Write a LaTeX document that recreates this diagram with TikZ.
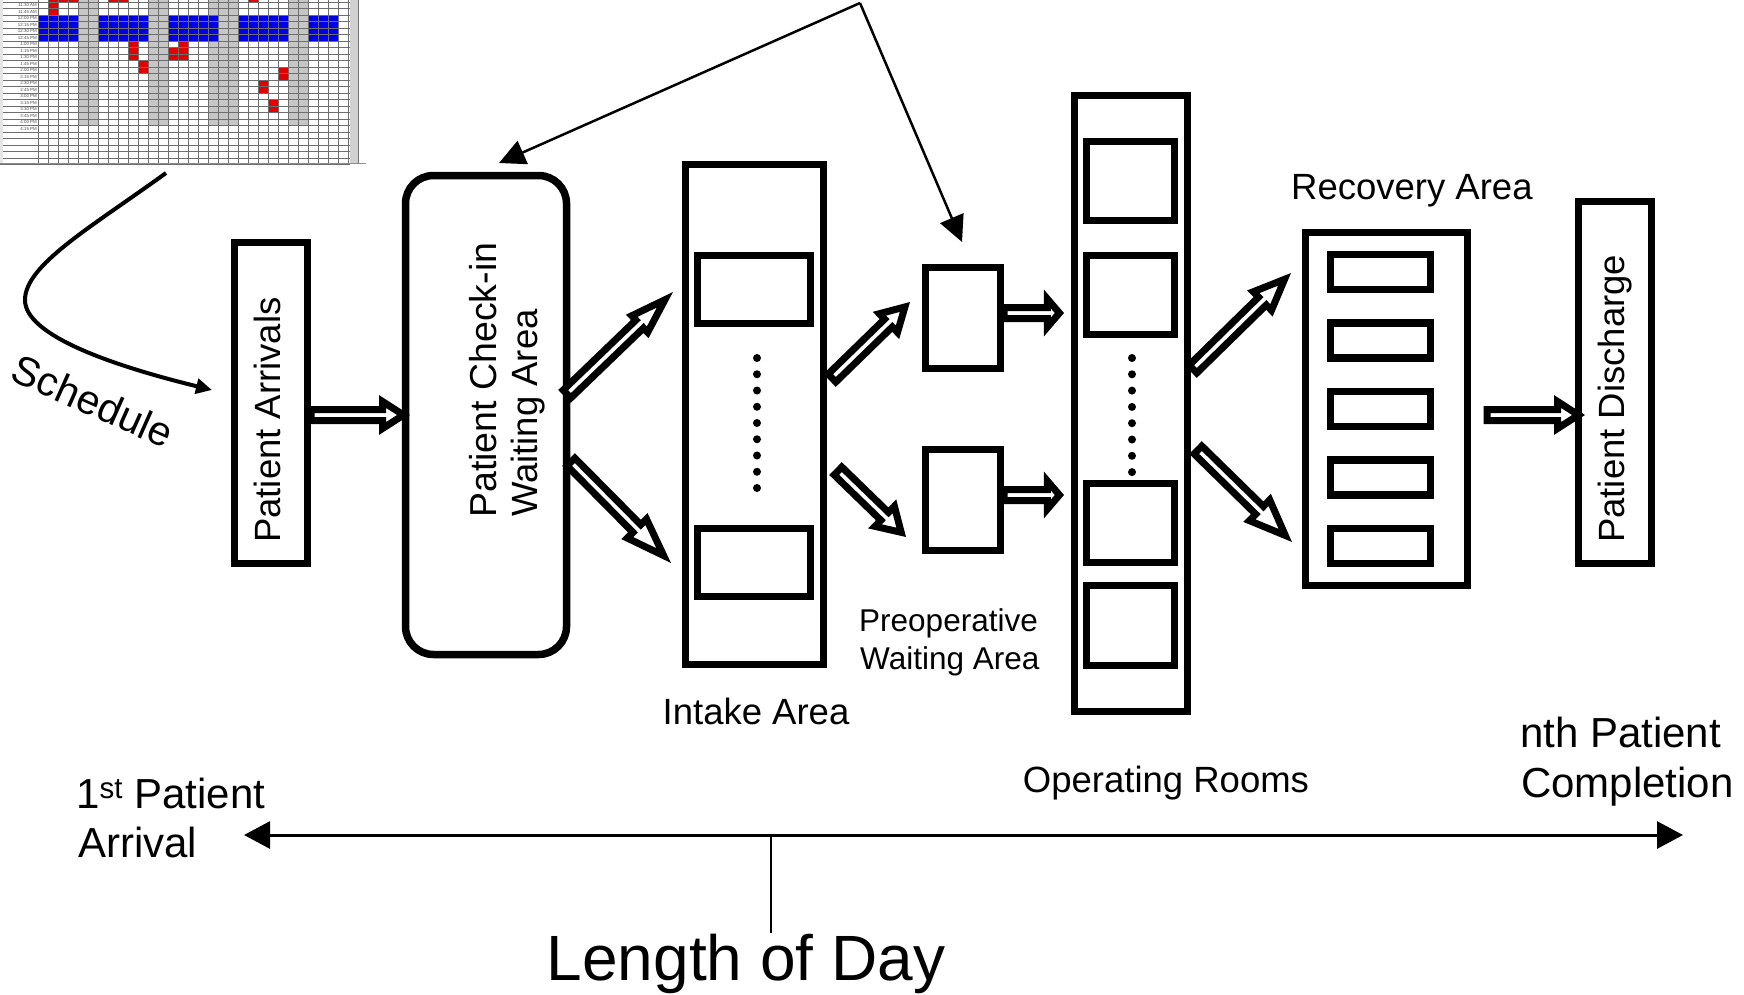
\documentclass[tikz,border=0pt]{standalone}
\usepackage{fontspec}
\setmainfont{Liberation Sans}
\usetikzlibrary{arrows.meta,calc}
\definecolor{sblue}{RGB}{0,0,235}
\definecolor{sred}{RGB}{228,0,0}
\definecolor{sband}{RGB}{198,198,198}
\definecolor{sgrid}{RGB}{110,110,110}
% #1 tail, #2 outer tip, #3 head length, #4 head half width
\newcommand{\blkarrow}[4]{%
  \pgfmathsetmacro{\blkoff}{3.5*veclen(#3,#4)/#4}%
  \coordinate (bT) at ($(#2)!\blkoff pt!(#1)$);
  \coordinate (bC) at ($(bT)!#3pt!(#1)$);
  \draw[blockarrow] ($(#1)!5.5pt!90:(bT)$) -- ($(bC)!5.5pt!90:(bT)$) -- ($(bC)!#4pt!90:(bT)$) -- (bT)
     -- ($(bC)!#4pt!-90:(bT)$) -- ($(bC)!5.5pt!-90:(bT)$) -- ($(#1)!5.5pt!-90:(bT)$) -- cycle;
}
\begin{document}
\begin{tikzpicture}[x=1pt,y=-1pt,
  box/.style={draw, line width=7.5pt, inner sep=0pt},
  blockarrow/.style={draw, line width=7pt, fill=white, line join=miter},
  lbl/.style={font=\fontsize{36.5pt}{42pt}\selectfont, inner sep=0pt},
  lblsm/.style={font=\fontsize{31.5pt}{38pt}\selectfont, inner sep=0pt},
  tl/.style={font=\fontsize{42pt}{50pt}\selectfont, inner sep=0pt},
  gridl/.style={draw=sgrid, line width=0.6pt},
  ptr/.style={line width=2.5pt, -{Triangle[length=26pt,width=25pt]}},
]
\fill[white] (0,0) rectangle (1744,994);
\useasboundingbox (0,0) rectangle (1744,994);

% ---------------- spreadsheet picture ----------------
\begin{scope}
\clip (0,0) rectangle (366,164);
\fill[white] (0,0) rectangle (366,164);
\foreach \a/\b in {78/98,148/168,208/238,288/308}
  \fill[sband] (\a,0) rectangle (\b,125.5);
\foreach \a/\b in {38/78,98/148,168/218,239/289,309/339}
  \fill[sblue] (\a,15) rectangle (\b,41);
\fill[sred] (48,0) rectangle (58,15);
\fill[sred] (58,0) rectangle (78,2);
\fill[sred] (108,0) rectangle (128,2);
\fill[sred] (248,0) rectangle (258,2);
\fill[sred] (128,41) rectangle (138,60.5);
\fill[sred] (138,60.5) rectangle (148,73.5);
\fill[sred] (168,47.5) rectangle (188,60.5);
\fill[sred] (178,41) rectangle (188,47.5);
\fill[sred] (278,67) rectangle (288,80);
\fill[sred] (258,80) rectangle (268,93);
\fill[sred] (268,99.5) rectangle (278,112.5);
\foreach \x in {38,48,...,348}
  \draw[gridl] (\x,0) -- (\x,164);
\foreach \k in {0,...,25}
  \draw[gridl] (0,{2+6.5*\k}) -- (350,{2+6.5*\k});
\foreach \t [count=\i from 0] in {11:15 AM,11:30 AM,11:45 AM,12:00 PM,12:15 PM,12:30 PM,12:45 PM,1:00 PM,1:15 PM,1:30 PM,1:45 PM,2:00 PM,2:15 PM,2:30 PM,2:45 PM,3:00 PM,3:15 PM,3:30 PM,3:45 PM,4:00 PM,4:15 PM}
  \node[anchor=east, inner sep=0pt, text=black!70, font=\fontsize{4.4pt}{4.6pt}\selectfont] (tm\i) at (37,{-1.25+6.5*\i}) {\t};
\fill[black!18] (350,0) rectangle (358,164);
\draw[black!55, line width=1pt] (358.5,0) -- (358.5,164);
\fill[black!10] (0,0) rectangle (2.5,164);
\draw[black!45, line width=1pt] (0,163) -- (366,163);
\end{scope}

% ---------------- main boxes ----------------
\node[box, minimum width=73pt, minimum height=321pt] (arr) at (271,403) {};
\node[box, rounded corners=28pt, minimum width=161pt, minimum height=479pt] (chk) at (486,415) {};
\node[box, minimum width=138pt, minimum height=500pt] (intake) at (754.5,414.5) {};
\node[box, minimum width=113pt, minimum height=68pt] (in1) at (754,289.5) {};
\node[box, minimum width=113pt, minimum height=68pt] (in2) at (754,562.5) {};
\foreach \k in {0,...,8}
  \fill (757,{358+16.25*\k}) circle (4pt);
\node[box, minimum width=75pt, minimum height=101pt] (pre1) at (963,318) {};
\node[box, minimum width=75pt, minimum height=101pt] (pre2) at (963,500) {};
\node[box, minimum width=113pt, minimum height=616pt] (or) at (1131,403.5) {};
\node[box, minimum width=88pt, minimum height=79pt] (or1) at (1130.5,181) {};
\node[box, minimum width=88pt, minimum height=79pt] (or2) at (1130.5,295) {};
\node[box, minimum width=88pt, minimum height=79pt] (or3) at (1130.5,523) {};
\node[box, minimum width=88pt, minimum height=80pt] (or4) at (1130.5,625.5) {};
\foreach \k in {0,...,7}
  \fill (1132,{358+16.3*\k}) circle (4pt);
\node[box, minimum width=162pt, minimum height=353pt] (rec) at (1386.5,409) {};
\foreach \yy [count=\i] in {272,340.5,409,477.5,546}
  \node[box, minimum width=100pt, minimum height=35pt] (r\i) at (1380.5,\yy) {};
\node[box, minimum width=73pt, minimum height=362pt] (dis) at (1615,382.5) {};

% ---------------- texts ----------------
\node[lbl, rotate=90, anchor=base west] (arrtxt) at (280,543) {Patient Arrivals};
\node[lbl, font=\fontsize{37.5pt}{42pt}\selectfont, rotate=90, anchor=base west] (chktxtA) at (496,518) {Patient Check-in};
\node[lbl, rotate=90, anchor=base west] (chktxtB) at (537,517) {Waiting Area};
\node[lbl, rotate=90, anchor=base west] (distxt) at (1624,543) {Patient Discharge};
\node[lbl, anchor=base west] (rectxt) at (1291,199) {Recovery Area};
\node[lbl, anchor=base] (inttxt) at (756,724) {Intake Area};
\node[lblsm, anchor=base west] (pretxtA) at (859,631) {Preoperative};
\node[lblsm, anchor=base west] (pretxtB) at (860,669) {Waiting Area};
\node[lbl, anchor=base] (ortxt) at (1166,792) {Operating Rooms};
\node[tl, anchor=base west] (firstA) at (76,808) {1\textsuperscript{st} Patient};
\node[tl, anchor=base west] (firstB) at (78,857) {Arrival};
\node[tl, anchor=base west] (lastA) at (1520,747) {nth Patient};
\node[tl, anchor=base west] (lastB) at (1521,797) {Completion};
\node[font=\fontsize{64pt}{72pt}\selectfont, inner sep=0pt, anchor=base] (lod) at (746,980) {Length of Day};
\node[font=\fontsize{41pt}{48pt}\selectfont, inner sep=0pt, rotate=-24] (sched) at (93,401) {Schedule};

% ---------------- block arrows ----------------
\coordinate (a1s) at (311,415);   \coordinate (a1e) at (410,415);
\coordinate (a2s) at (567,394);   \coordinate (a2e) at (673,292);
\coordinate (a3s) at (571,462);   \coordinate (a3e) at (671,563);
\coordinate (a4s) at (832,378);   \coordinate (a4e) at (910,302);
\coordinate (a5s) at (838,471);   \coordinate (a5e) at (906,537);
\coordinate (a6s) at (1004,313);  \coordinate (a6e) at (1064,313);
\coordinate (a7s) at (1004,495);  \coordinate (a7e) at (1064,495);
\coordinate (a8s) at (1193,369);  \coordinate (a8e) at (1291,273);
\coordinate (a9s) at (1198,450);  \coordinate (a9e) at (1292,542);
\coordinate (a10s) at (1487,415); \coordinate (a10e) at (1585,415);
\blkarrow{a1s}{a1e}{21}{13.5}
\blkarrow{a2s}{a2e}{35}{11.5}
\blkarrow{a3s}{a3e}{38}{13.5}
\blkarrow{a4s}{a4e}{23}{13}
\blkarrow{a5s}{a5e}{23}{14}
\blkarrow{a6s}{a6e}{12}{14}
\blkarrow{a7s}{a7e}{12}{14}
\blkarrow{a8s}{a8e}{31}{13}
\blkarrow{a9s}{a9e}{36}{14.5}
\blkarrow{a10s}{a10e}{21}{13.5}

% ---------------- thin arrows ----------------
\coordinate (apex) at (860,3);
\coordinate (chkin) at (499,163);
\coordinate (prein) at (962,242);
\draw[ptr] (apex) -- (chkin);
\draw[ptr] (apex) -- (prein);

\coordinate (s0) at (166,173);
\coordinate (s1) at (25,300);
\coordinate (s2) at (212,390);
\draw[line width=4pt, -{Triangle[length=16pt,width=15pt]}] (s0) .. controls (90,228) and (25,265) .. (s1) .. controls (25,335) and (110,365) .. (s2);

% ---------------- timeline ----------------
\coordinate (tL) at (244,835);
\coordinate (tR) at (1683,835);
\coordinate (tM) at (771,835);
\draw[line width=3pt, {Triangle[length=26pt,width=27pt]}-{Triangle[length=26pt,width=27pt]}] (tL) -- (tR);
\draw[line width=1.6pt] (tM) -- (tM |- lod.north);
\end{tikzpicture}
\end{document}
